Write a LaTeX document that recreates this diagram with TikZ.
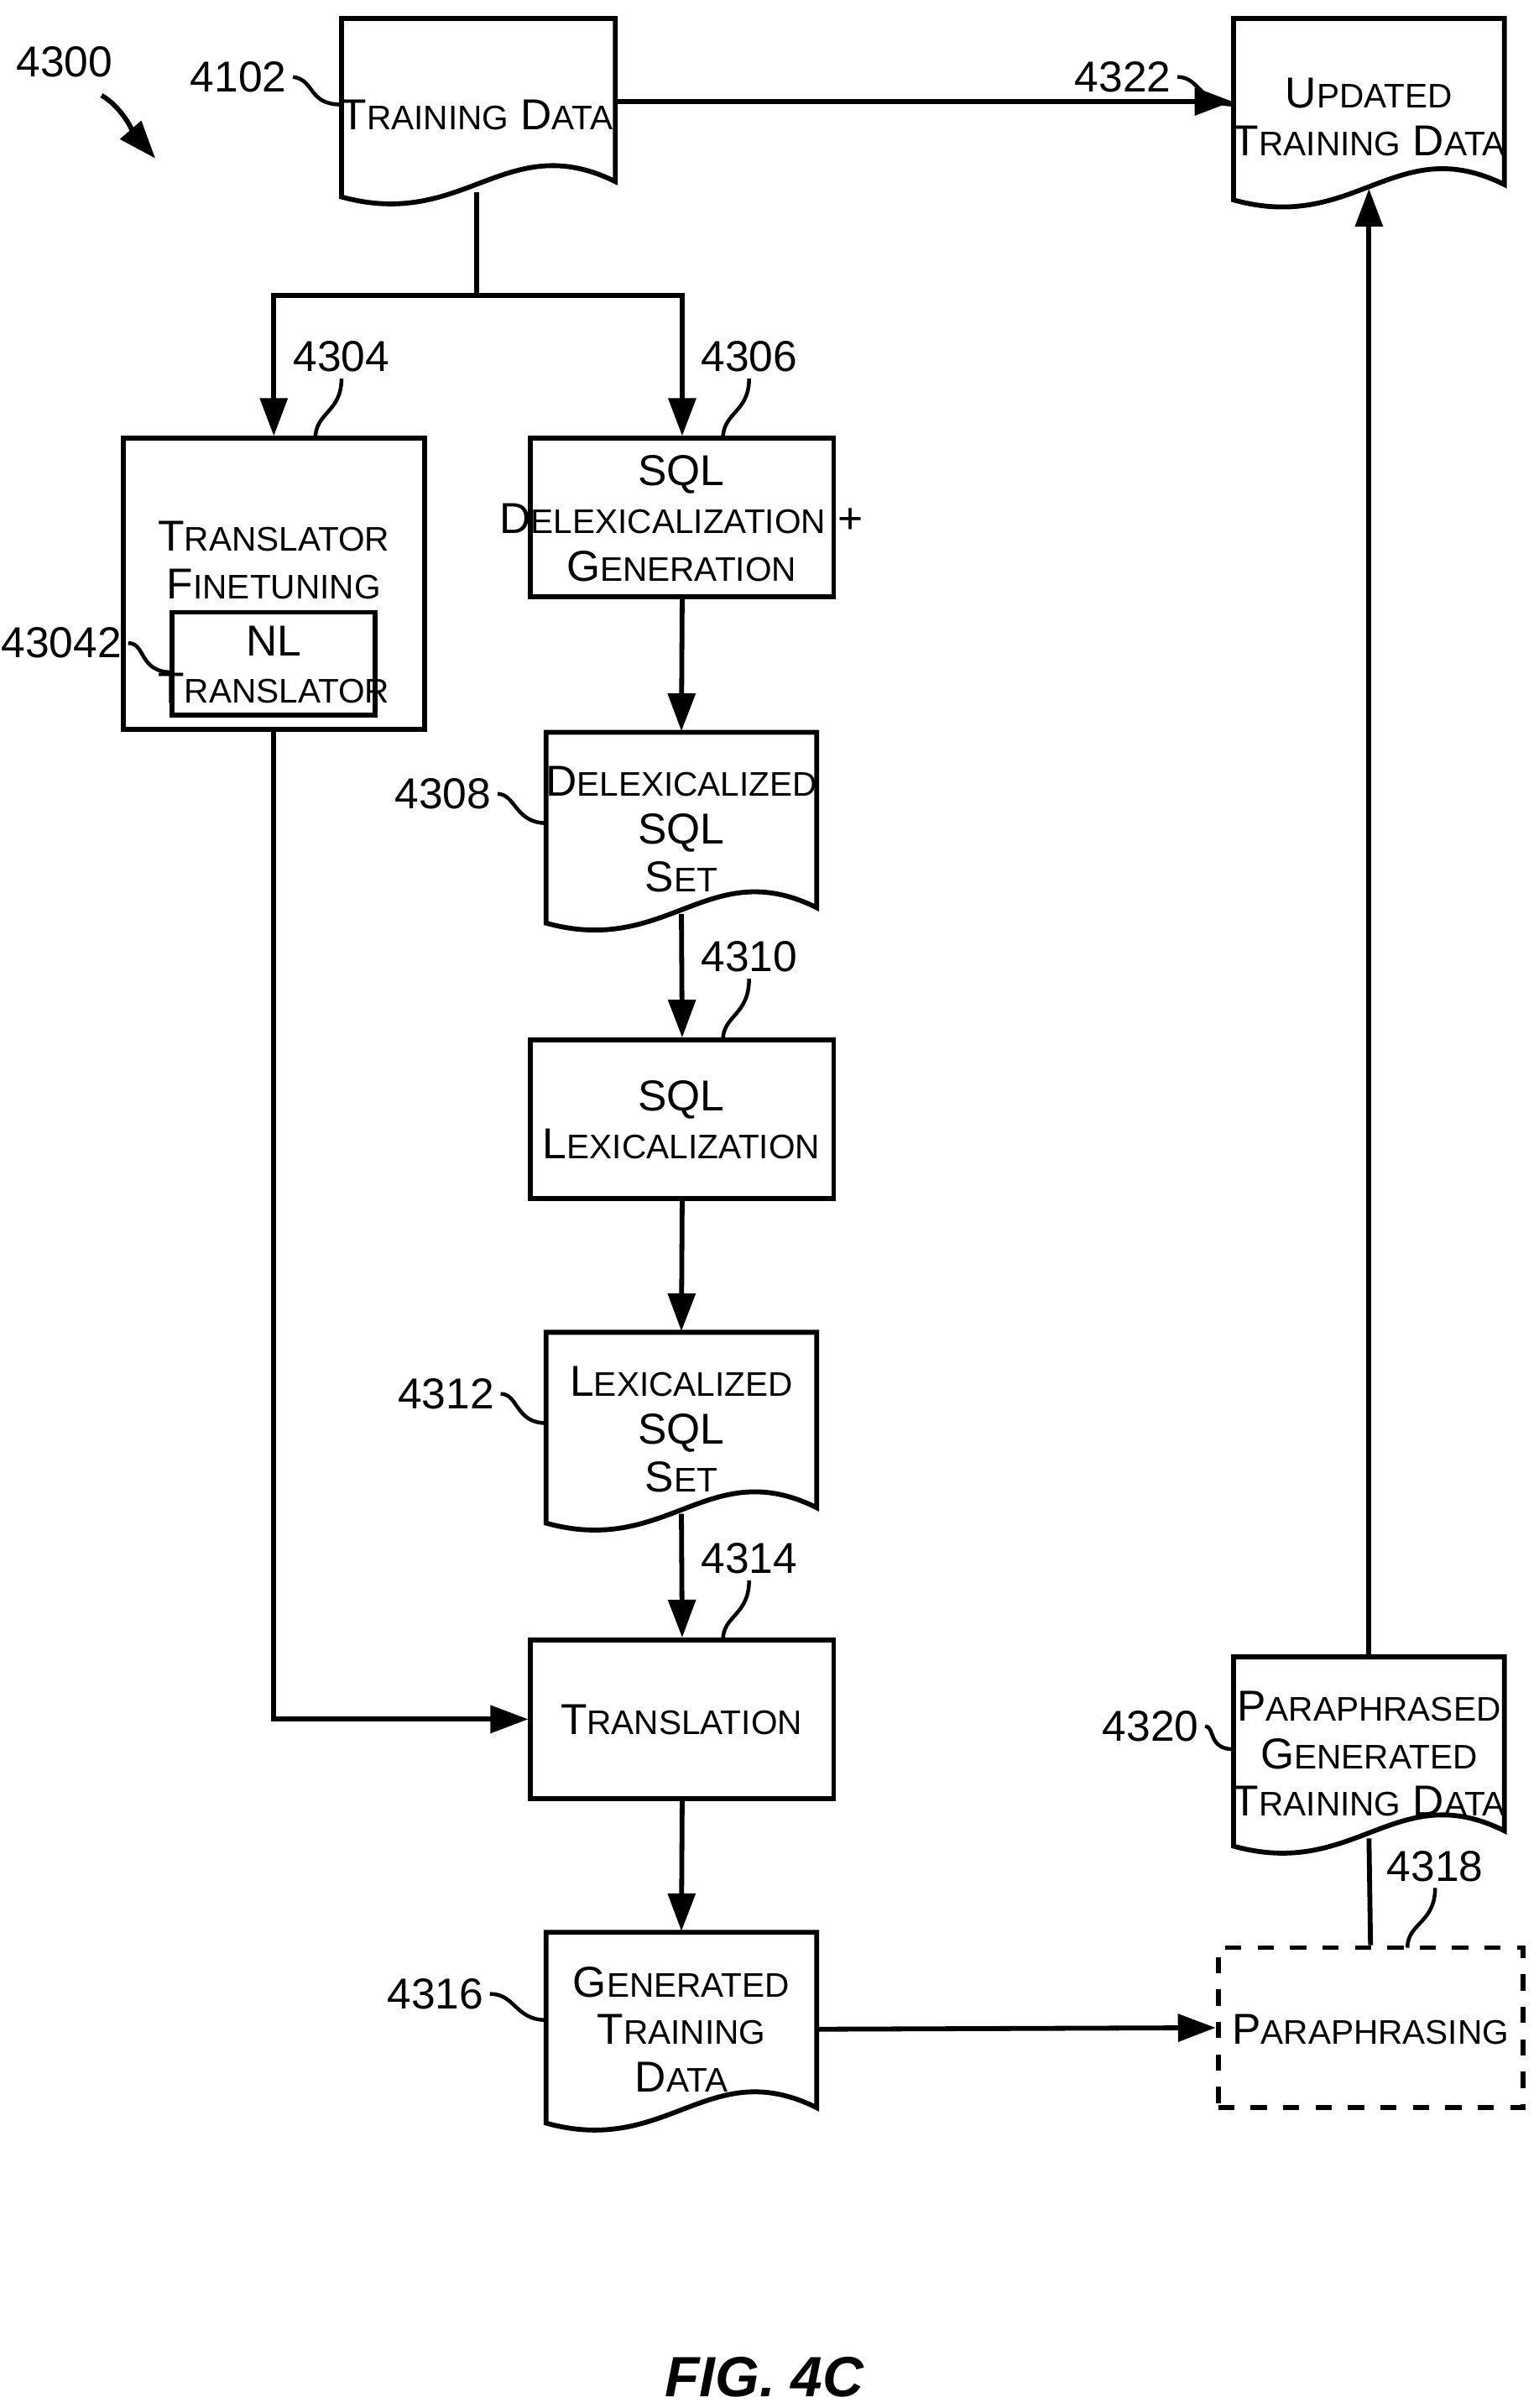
\documentclass[tikz,border=0pt]{standalone}
\usepackage{fontspec}
\setmainfont{Liberation Sans}
\usetikzlibrary{arrows.meta}
\newcommand\s[1]{{\fontsize{6.3}{8.8}\selectfont #1}}
\newcommand\docshape[6]{% name x1 y1 x2 y2 text
  \draw[line width=0.9pt] (#2,#3) -- (#4,#3) -- (#4,#5-10) .. controls ({#4-0.4*(#4-#2)},#5-45) and ({#2+0.45*(#4-#2)},#5+22) .. (#2,#5) -- cycle;
  \node[minimum width={(#4-#2)*0.1mm}, minimum height={(#5-#3-8)*0.1mm}, inner sep=0pt, align=center, txt] (#1) at ({(#2+#4)/2},{(#3+#5-8)/2}) {#6};}
\newcommand\boxshape[6]{%
  \node[draw, line width=0.9pt, minimum width={(#4-#2)*0.1mm}, minimum height={(#5-#3)*0.1mm}, inner sep=0pt, align=center, txt, #6] (#1) at ({(#2+#4)/2},{(#3+#5)/2}) {};}
\begin{document}
\begin{tikzpicture}[x=0.1mm,y=-0.1mm,
  txt/.style={font=\fontsize{8}{8.8}\selectfont},
  lbl/.style={font=\fontsize{8}{9}\selectfont, inner sep=1pt},
  con/.style={line width=0.9pt},
  arr/.style={con,-{Triangle[length=7pt,width=5pt]}},
  lead/.style={line width=0.7pt}]
\useasboundingbox (0,0) rectangle (1000,1565.2);

\docshape{td}{222}{12}{400}{128}{}
\node[txt] at (310,75) {T\s{RAINING} D\s{ATA}};
\docshape{utd}{802}{12}{978}{130}{}
\node[txt,align=center] at (890,76) {U\s{PDATED}\\T\s{RAINING} D\s{ATA}};

\boxshape{tf}{80}{285}{276}{474}{}
\node[txt,align=center] at (178,364) {T\s{RANSLATOR}\\F\s{INETUNING}};
\boxshape{nl}{112}{398}{244}{465}{}
\node[txt,align=center] at (178,432) {NL\\T\s{RANSLATOR}};

\boxshape{dg}{345}{285}{542}{388}{}
\node[txt,align=center] at (443,337) {SQL\\D\s{ELEXICALIZATION} +\\G\s{ENERATION}};

\docshape{ds}{355}{476}{531}{600}{}
\node[txt,align=center] at (443,539) {D\s{ELEXICALIZED}\\SQL\\S\s{ET}};

\boxshape{lx}{345}{676}{542}{779}{}
\node[txt,align=center] at (443,728) {SQL\\L\s{EXICALIZATION}};

\docshape{ls}{355}{866}{531}{990}{}
\node[txt,align=center] at (443,929) {L\s{EXICALIZED}\\SQL\\S\s{ET}};

\boxshape{tr}{345}{1066}{542}{1169}{}
\node[txt] at (443,1118) {T\s{RANSLATION}};

\docshape{gt}{355}{1256}{531}{1380}{}
\node[txt,align=center] at (443,1319) {G\s{ENERATED}\\T\s{RAINING}\\D\s{ATA}};

\boxshape{pp}{792}{1266}{990}{1370}{dashed}
\node[txt] at (891,1319) {P\s{ARAPHRASING}};

\docshape{pg}{802}{1077}{978}{1200}{}
\node[txt,align=center] at (890,1140) {P\s{ARAPHRASED}\\G\s{ENERATED}\\T\s{RAINING} D\s{ATA}};

% connectors
\coordinate (split) at (310,192);
\draw[arr] (td.east) -- (utd.west |- td.east);
\draw[con] (310,125) -- (split);
\draw[arr] (split) -| (tf.north);
\draw[arr] (split) -| (dg.north);
\draw[arr] (dg.south) -- (ds.north);
\draw[arr] (443,594) -- (lx.north);
\draw[arr] (lx.south) -- (ls.north);
\draw[arr] (443,984) -- (tr.north);
\draw[arr] (tf.south) |- (tr.west);
\draw[arr] (tr.south) -- (gt.north);
\draw[arr] (531,1319) -- (pp.west);
\draw[con] (pp.north) -- (890,1195);
\draw[arr] (pg.north) -- (utd.south);

% labels
\node[lbl] (l4300) at (42,40) {4300};
\draw[line width=0.9pt,-{Triangle[length=7pt,width=5pt]}] (66,62) .. controls (80,70) and (88,88) .. (101,103);
\node[lbl] (a) at (155,50) {4102};
\draw[lead] (a.east) .. controls (205,52) and (200,68) .. (222,68);
\node[lbl] (b) at (730,50) {4322};
\draw[lead] (b.east) .. controls (780,50) and (780,68) .. (802,68);
\node[lbl] (c) at (222,232) {4304};
\draw[lead] (c.south) .. controls (222,268) and (205,268) .. (205,285);
\node[lbl] (d) at (487,232) {4306};
\draw[lead] (d.south) .. controls (487,268) and (470,268) .. (470,285);
\node[lbl] (e) at (40,418) {43042};
\draw[lead] (e.east) .. controls (95,418) and (90,437) .. (112,437);
\node[lbl] (f) at (288,516) {4308};
\draw[lead] (f.east) .. controls (335,516) and (335,535) .. (355,535);
\node[lbl] (g) at (487,622) {4310};
\draw[lead] (g.south) .. controls (487,660) and (470,660) .. (470,676);
\node[lbl] (h) at (290,906) {4312};
\draw[lead] (h.east) .. controls (337,906) and (335,925) .. (355,925);
\node[lbl] (i) at (487,1013) {4314};
\draw[lead] (i.south) .. controls (487,1050) and (470,1050) .. (470,1066);
\node[lbl] (j) at (283,1296) {4316};
\draw[lead] (j.east) .. controls (335,1296) and (335,1313) .. (355,1313);
\node[lbl] (k) at (933,1213) {4318};
\draw[lead] (k.south) .. controls (933,1250) and (915,1250) .. (915,1266);
\node[lbl] (m) at (748,1122) {4320};
\draw[lead] (m.east) .. controls (790,1122) and (785,1137) .. (802,1137);

\node[font=\fontsize{10.5}{12}\selectfont\bfseries\itshape] (fig) at (497,1545) {FIG. 4C};
\end{tikzpicture}
\end{document}
